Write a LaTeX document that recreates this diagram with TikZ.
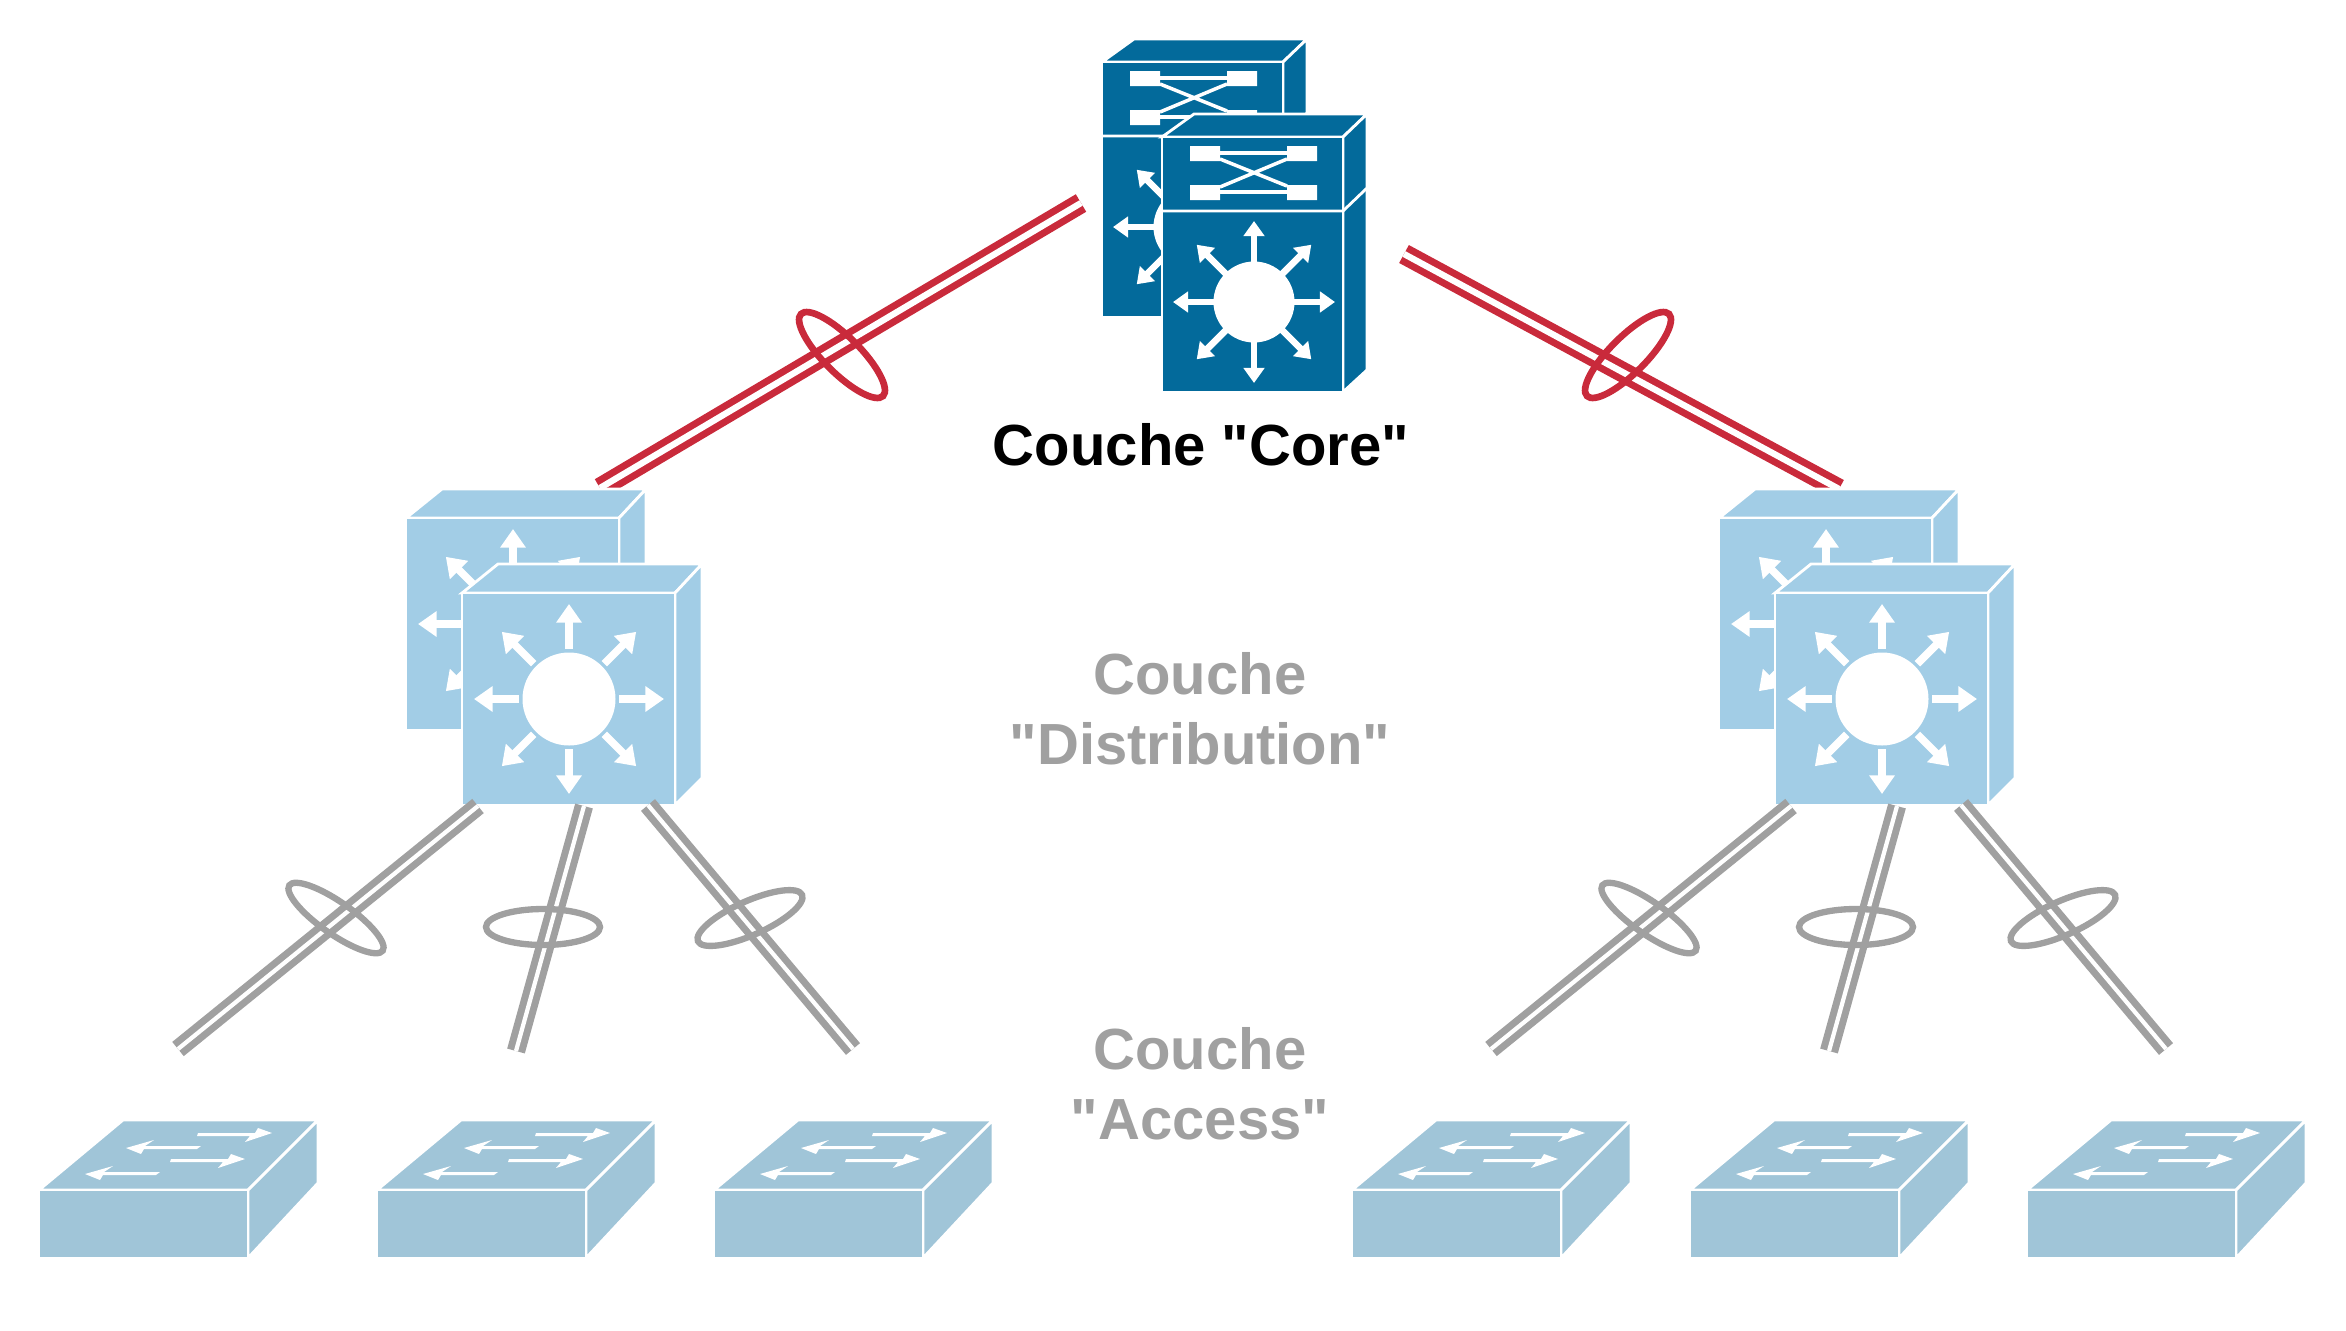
\documentclass[tikz,border=0pt]{standalone}
\usepackage{fontspec}
\setmainfont{Liberation Sans}[Ligatures=TeXOff]
\usetikzlibrary{arrows.meta}
\definecolor{coreblue}{RGB}{3,106,155}
\definecolor{distblue}{RGB}{162,205,230}
\definecolor{accessblue}{RGB}{160,197,216}
\definecolor{linkred}{RGB}{201,42,59}
\definecolor{linkgray}{RGB}{160,160,160}
\tikzset{
    redlink/.style={draw=linkred,line width=2pt,double=white,double distance=1.8pt},
    graylink/.style={draw=linkgray,line width=2pt,double=white,double distance=1.2pt},
    redring/.style={draw=linkred,line width=1.9pt},
    grayring/.style={draw=linkgray,line width=1.8pt},
    face/.style={draw=white,line width=0.8pt,line join=miter},
    layerlabel/.style={font=\bfseries\fontsize{16.5}{19.9}\selectfont,align=center},
    pics/coreswitch/.style={code={
        \draw[face,fill=coreblue] (0,0) -- (32,-23) -- (205,-23) -- (181,0) -- cycle;
        \draw[face,fill=coreblue] (181,0) -- (205,-23) -- (205,233) -- (181,255) -- cycle;
        \draw[face,fill=coreblue] (0,0) rectangle (181,255);
        \draw[face] (0,74) -- (181,74) -- (205,51);
        \fill[white] (28,9) rectangle (58,24) (125,9) rectangle (155,24);
        \fill[white] (28,48) rectangle (58,63) (125,48) rectangle (155,63);
        \draw[white,line width=1pt] (58,16) -- (125,16) (58,55) -- (125,55);
        \draw[white,line width=1pt] (58,22) -- (125,49) (58,50) -- (125,22);
        \begin{scope}[shift={(92,165)}]
            \foreach \a in {0,45,...,315}
                \draw[white,line width=1.9pt,-{Triangle[length=4.3pt,width=5.8pt]}] (0,0) -- (\a:81);
            \fill[white] (0,0) circle (40.5);
        \end{scope}
    }},
    pics/distswitch/.style={code={
        \draw[face,fill=distblue] (0,0) -- (36,-29) -- (240,-29) -- (213,0) -- cycle;
        \draw[face,fill=distblue] (213,0) -- (240,-29) -- (240,185) -- (213,212) -- cycle;
        \draw[face,fill=distblue] (0,0) rectangle (213,212);
        \begin{scope}[shift={(107,106)}]
            \foreach \a in {0,45,...,315}
                \draw[white,line width=2.2pt,-{Triangle[length=5.3pt,width=7pt]}] (\a:50) -- (\a:95);
            \fill[white] (0,0) circle (46.5);
        \end{scope}
    }},
    pics/accessswitch/.style={code={
        \draw[face,fill=accessblue] (0,0) -- (84,-70) -- (279,-70) -- (209,0) -- cycle;
        \draw[face,fill=accessblue] (209,0) -- (279,-70) -- (279,-7) -- (209,68) -- cycle;
        \draw[face,fill=accessblue] (0,0) rectangle (209,68);
        \foreach \dx/\dy in {0/-1,-27/25}
            \fill[white,shift={(\dx,\dy)}] (159,-56) -- (216,-56) -- (219,-61) -- (233,-56) -- (206,-47) -- (211,-53) -- (158,-53) -- cycle;
        \foreach \dx/\dy in {0/-1,-41/25}
            \fill[white,shift={(\dx,\dy)}] (162,-43) -- (158,-40) -- (105,-40) -- (102,-35) -- (87,-41) -- (115,-49) -- (106,-43) -- cycle;
    }}
}
\begin{document}
\begin{tikzpicture}[x=0.01cm,y=-0.01cm]
    \useasboundingbox (0,0) rectangle (2346,1330);

    \coordinate (coreleft) at (1081,203);
    \coordinate (distlefttop) at (600,488);
    \coordinate (coreright) at (1404,254);
    \coordinate (distrighttop) at (1839,489);
    \draw[redlink] (coreleft) -- (distlefttop);
    \draw[redlink] (coreright) -- (distrighttop);
    \draw[redring] (842,355) circle[x radius=58,y radius=18,rotate=-45];
    \draw[redring] (1628,355) circle[x radius=58,y radius=18,rotate=45];

    \foreach \dx/\side in {0/l,1313/r} {
        \pic at ({406+\dx},518) {distswitch};
        \pic at ({462+\dx},593) {distswitch};
        \coordinate (\side top1) at ({478+\dx},806);
        \coordinate (\side top2) at ({584+\dx},806);
        \coordinate (\side top3) at ({648+\dx},805);
        \coordinate (\side low1) at ({178+\dx},1049);
        \coordinate (\side low2) at ({516+\dx},1051);
        \coordinate (\side low3) at ({853+\dx},1049);
        \foreach \n in {1,2,3}
            \draw[graylink] (\side top\n) -- (\side low\n);
        \draw[grayring] ({336+\dx},918) circle[x radius=57,y radius=16,rotate=-35];
        \draw[grayring] ({543+\dx},927) circle[x radius=57,y radius=18];
        \draw[grayring] ({750+\dx},918) circle[x radius=57,y radius=17,rotate=24];
        \foreach \sx in {39,377,714}
            \pic at ({\sx+\dx},1190) {accessswitch};
    }

    \pic at (1102,62) {coreswitch};
    \pic at (1162,137) {coreswitch};

    \node[layerlabel] (corelabel) at (1201,445) {Couche "Core"};
    \node[layerlabel,text=linkgray] (distlabel) at (1200,709) {Couche\\"Distribution"};
    \node[layerlabel,text=linkgray] (accesslabel) at (1200,1084) {Couche\\"Access"};
\end{tikzpicture}
\end{document}
